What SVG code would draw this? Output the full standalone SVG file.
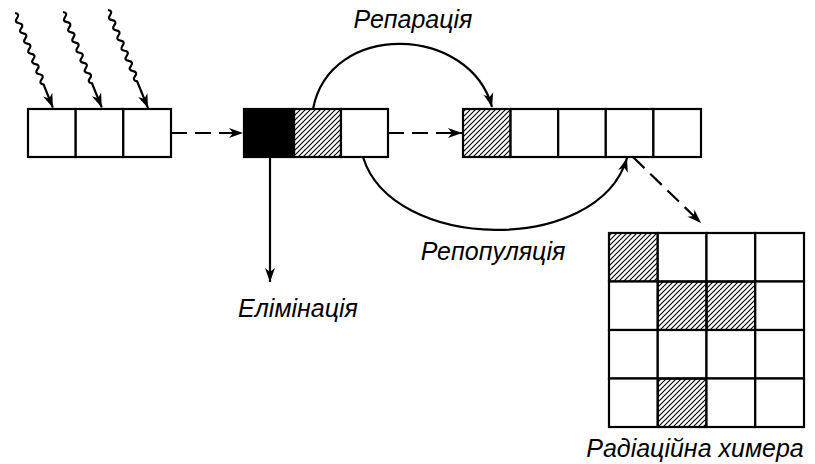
<svg xmlns="http://www.w3.org/2000/svg" width="815" height="464" viewBox="0 0 815 464">
<style>
.box{fill:#fff;stroke:#000;stroke-width:2.2}
.hat{fill:url(#hatch);stroke:#000;stroke-width:2.2}
.blk{fill:#000;stroke:#000;stroke-width:2.2}
.ln{fill:none;stroke:#000;stroke-width:2.2}
.dash{fill:none;stroke:#000;stroke-width:2.2;stroke-dasharray:16 8}
.lbl{font-family:"Liberation Sans",Arial,sans-serif;font-style:italic;font-size:25px;fill:#000;text-anchor:middle}
</style>
<defs>
<pattern id="hatch" patternUnits="userSpaceOnUse" width="5" height="5">
<path d="M-1,1 l2,-2 M0,5 l5,-5 M4,6 l2,-2" stroke="#000" stroke-width="1.1"/>
</pattern>
<marker id="ah" markerUnits="userSpaceOnUse" markerWidth="16" markerHeight="12" refX="14" refY="5" orient="auto" overflow="visible">
<path d="M0,0 L14,5 L0,10 L4,5 z" fill="#000"/>
</marker>
</defs>
<g id="rays">
<path class="ln" marker-end="url(#ah)" transform="translate(15,13) rotate(68.2)" d="M0,0 q2.75,-4.5 5.5,0 t5.5,0 t5.5,0 t5.5,0 t5.5,0 t5.5,0 t5.5,0 t5.5,0 t5.5,0 t5.5,0 t5.5,0 t5.5,0 t5.5,0 t5.5,0 l25,0"/>
<path class="ln" marker-end="url(#ah)" transform="translate(63,12) rotate(67.9)" d="M0,0 q2.75,-4.5 5.5,0 t5.5,0 t5.5,0 t5.5,0 t5.5,0 t5.5,0 t5.5,0 t5.5,0 t5.5,0 t5.5,0 t5.5,0 t5.5,0 t5.5,0 t5.5,0 l26,0"/>
<path class="ln" marker-end="url(#ah)" transform="translate(108,10) rotate(67.8)" d="M0,0 q2.75,-4.5 5.5,0 t5.5,0 t5.5,0 t5.5,0 t5.5,0 t5.5,0 t5.5,0 t5.5,0 t5.5,0 t5.5,0 t5.5,0 t5.5,0 t5.5,0 t5.5,0 l29,0"/>
</g>
<g id="row1">
<rect class="box" x="28" y="109" width="47.7" height="48"/>
<rect class="box" x="75.7" y="109" width="47.6" height="48"/>
<rect class="box" x="123.3" y="109" width="47.7" height="48"/>
</g>
<g id="row2">
<rect class="blk" x="244" y="109" width="50" height="48"/>
<rect class="hat" x="294" y="109" width="47" height="48"/>
<rect class="box" x="341" y="109" width="47" height="48"/>
</g>
<g id="row3">
<rect class="hat" x="463" y="109" width="47.6" height="48"/>
<rect class="box" x="510.6" y="109" width="47.6" height="48"/>
<rect class="box" x="558.2" y="109" width="47.6" height="48"/>
<rect class="box" x="605.8" y="109" width="47.6" height="48"/>
<rect class="box" x="653.4" y="109" width="47.6" height="48"/>
</g>
<g id="chimera">
<rect class="hat" x="609" y="233" width="48.75" height="48.5"/>
<rect class="box" x="657.75" y="233" width="48.75" height="48.5"/>
<rect class="box" x="706.5" y="233" width="48.75" height="48.5"/>
<rect class="box" x="755.25" y="233" width="48.75" height="48.5"/>
<rect class="box" x="609" y="281.5" width="48.75" height="48.5"/>
<rect class="hat" x="657.75" y="281.5" width="48.75" height="48.5"/>
<rect class="hat" x="706.5" y="281.5" width="48.75" height="48.5"/>
<rect class="box" x="755.25" y="281.5" width="48.75" height="48.5"/>
<rect class="box" x="609" y="330" width="48.75" height="48.5"/>
<rect class="box" x="657.75" y="330" width="48.75" height="48.5"/>
<rect class="box" x="706.5" y="330" width="48.75" height="48.5"/>
<rect class="box" x="755.25" y="330" width="48.75" height="48.5"/>
<rect class="box" x="609" y="378.5" width="48.75" height="48.5"/>
<rect class="hat" x="657.75" y="378.5" width="48.75" height="48.5"/>
<rect class="box" x="706.5" y="378.5" width="48.75" height="48.5"/>
<rect class="box" x="755.25" y="378.5" width="48.75" height="48.5"/>
</g>
<g id="connectors">
<path class="dash" marker-end="url(#ah)" d="M171,133 L243,133"/>
<path class="dash" marker-end="url(#ah)" d="M388,133 L462,133"/>
<path class="dash" marker-end="url(#ah)" d="M633,157 L701,223"/>
<path class="ln" marker-end="url(#ah)" d="M313,109 C330,20 470,25 492,107"/>
<path class="ln" marker-end="url(#ah)" d="M363,157 C392,252 598,256 627,158"/>
<path class="ln" marker-end="url(#ah)" d="M270,157 L270,282"/>
</g>
<g id="labels">
<text class="lbl" x="413" y="28">Репарація</text>
<text class="lbl" x="493" y="260">Репопуляція</text>
<text class="lbl" x="298" y="317">Елімінація</text>
<text class="lbl" x="695" y="457">Радіаційна химера</text>
</g>
</svg>
